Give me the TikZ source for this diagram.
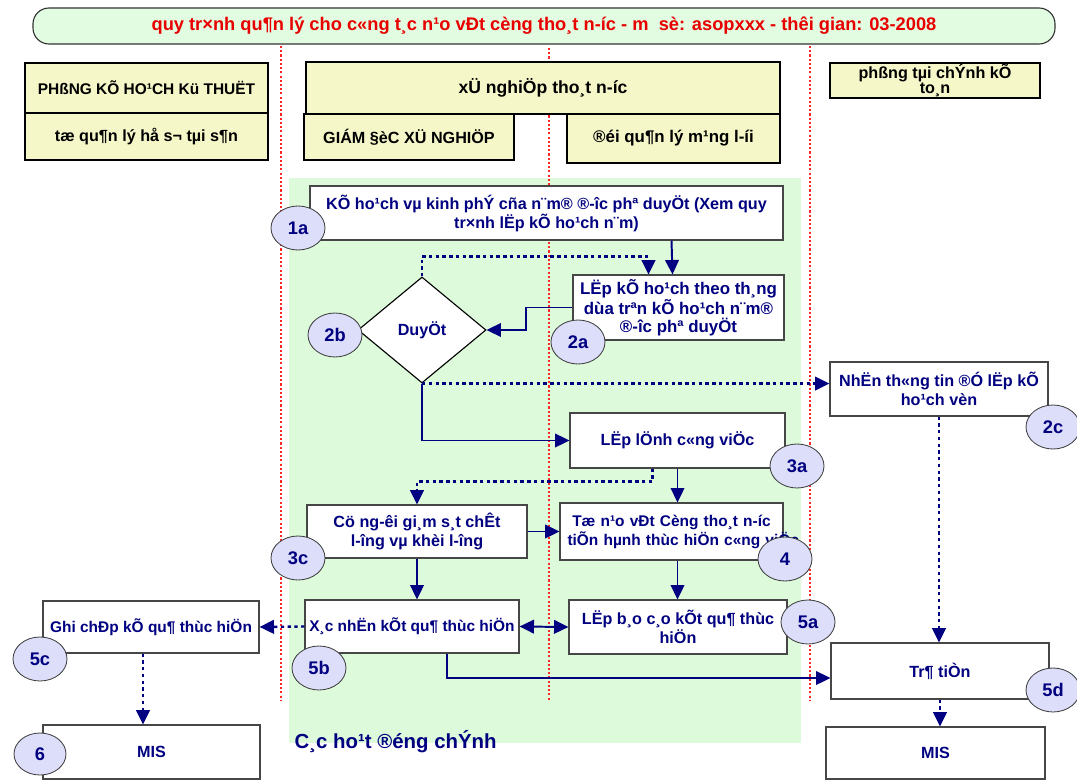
\documentclass[tikz,border=0pt]{standalone}
\usepackage{fontspec}
\setmainfont{Liberation Sans}
\usepackage{tikz}
\usetikzlibrary{positioning,shapes.geometric,arrows.meta,calc}
\definecolor{navy}{RGB}{0,0,128}
\definecolor{greenbg}{RGB}{221,251,218}
\definecolor{titlebg}{RGB}{226,252,226}
\definecolor{headyel}{RGB}{245,247,200}
\definecolor{numfill}{RGB}{221,222,250}
\definecolor{boxgray}{RGB}{70,70,70}
\definecolor{titlered}{RGB}{232,0,0}
\begin{document}
\begin{tikzpicture}[
		x=0.25mm, y=-0.25mm
		,every node/.append style={font=\bfseries\fontsize{11.5}{13.5}\selectfont, align=center, inner sep=1pt}
		,head/.style={draw=black, line width=1.2pt, fill=headyel, text=black}
		,task/.style={draw=boxgray, line width=0.8pt, fill=white, text=navy}
		,small/.style={font=\bfseries\fontsize{11}{13.5}\selectfont}
		,num/.style={ellipse, draw=black!75, line width=0.6pt, fill=numfill, text=navy, minimum width=13.5mm, minimum height=11mm, font=\bfseries\fontsize{13}{15}\selectfont}
		,lane/.style={red!85, line width=0.8pt, dash pattern=on 1.5pt off 1.5pt}
		,flow/.style={navy, line width=1.4pt, -{Triangle[length=3.6mm, width=3.4mm]}}
		,dflow/.style={flow, line width=1.7pt, dash pattern=on 2.4pt off 2.4pt}
	]
	\useasboundingbox (0,0) rectangle (1077,781);
	\fill[greenbg] (289,178) rectangle (801,743);
	\draw[lane] (281,46) -- (281,700);
	\draw[lane] (549,48) -- (549,700);
	\draw[lane] (810,46) -- (810,700);

	\node [draw=black!80, line width=0.8pt, fill=titlebg, rounded corners=4mm, minimum width=255.5mm, minimum height=9mm, text=titlered, font=\bfseries\fontsize{13}{14}\selectfont] (title) at (544,26) {quy tr×nh qu¶n lý cho c«ng t¸c n¹o vÐt cèng tho¸t n-íc - m\ \ sè: asopxxx - thêi gian: 03-2008};

	\node [head, minimum width=60.75mm, minimum height=12.5mm, font=\bfseries\fontsize{11}{13}\selectfont] (kt) at (146.5,88) {PHßNG KÕ HO¹CH Kü THUËT};
	\node [head, minimum width=60.75mm, minimum height=11.75mm] (hs) at (146.5,136.5) {tæ qu¶n lý hå s¬ tµi s¶n};
	\node [head, minimum width=118.5mm, minimum height=13mm, font=\bfseries\fontsize{12.5}{14}\selectfont] (xn) at (543,88) {xÜ nghiÖp tho¸t n-íc};
	\node [head, minimum width=52.5mm, minimum height=11.5mm] (gd) at (409,137) {GIÁM §èC XÜ NGHIÖP};
	\node [head, minimum width=53.25mm, minimum height=12.25mm, font=\bfseries\fontsize{12}{14}\selectfont] (dq) at (673.5,138.5) {®éi qu¶n lý m¹ng l-íi};
	\node [head, minimum width=52.5mm, minimum height=8.75mm, font=\bfseries\fontsize{11.5}{10.5}\selectfont] (tc) at (935,80.5) {phßng tµi chÝnh kÕ\\to¸n};

	\node [task, minimum width=118.25mm, minimum height=13.5mm] (a1) at (546.5,213) {KÕ ho¹ch vµ kinh phÝ cña n¨m® ®-îc phª duyÖt (Xem quy\\tr×nh lËp kÕ ho¹ch n¨m)};
	\node [task, minimum width=52.75mm, minimum height=16.25mm, font=\bfseries\fontsize{12}{12.5}\selectfont] (a2) at (678.5,307.5) {LËp kÕ ho¹ch theo th¸ng\\dùa trªn kÕ ho¹ch n¨m®\\®-îc phª duyÖt};
	\node [task, diamond, aspect=1.2, draw=black, minimum width=32mm, minimum height=26.5mm] (dia) at (422,330) {DuyÖt};
	\node [task, minimum width=54.5mm, minimum height=13.5mm] (c2) at (939,389) {NhËn th«ng tin ®Ó lËp kÕ\\ho¹ch vèn};
	\node [task, minimum width=53.75mm, minimum height=13.75mm] (a3) at (677.5,440.5) {LËp lÖnh c«ng viÖc};
	\node [task, minimum width=55mm, minimum height=13.25mm] (c3) at (417,531.5) {Cö ng-êi gi¸m s¸t chÊt\\l-îng vµ khèi l-îng};
	\node [task, small, minimum width=55.75mm, minimum height=14.25mm, text width=53mm] (b4) at (671.5,531.5) {Tæ n¹o vÐt Cèng tho¸t n-íc\\\makebox[52mm][l]{tiÕn hµnh thùc hiÖn c«ng viÖc}};
	\node [task, minimum width=54.5mm, minimum height=13.5mm] (a5) at (678,627) {LËp b¸o c¸o kÕt qu¶ thùc\\hiÖn};
	\node [task, small, minimum width=53.5mm, minimum height=13.25mm] (b5) at (412,626.5) {X¸c nhËn kÕt qu¶ thùc hiÖn};
	\node [task, small, minimum width=54mm, minimum height=13mm] (c5) at (151,627) {Ghi chÐp kÕ qu¶ thùc hiÖn};
	\node [task, minimum width=54.5mm, minimum height=14mm] (d5) at (940,671) {Tr¶ tiÒn};
	\node [task, minimum width=54.25mm, minimum height=13.5mm] (m6) at (151.5,752) {MIS};
	\node [task, minimum width=54.75mm, minimum height=13mm] (m7) at (935.5,753) {MIS};

	\node [anchor=west, text=navy, font=\bfseries\fontsize{14.5}{16}\selectfont] (main) at (293,742) {C¸c ho¹t ®éng chÝnh};

	\draw[flow] ($(a1.south)+(125,0)$) -- ($(a2.north)+(-6,0)$);
	\draw[dflow] (dia.north) -- ++(0,-20) -| ($(a2.north)+(-30,0)$);
	\draw[flow] (a2.west) -- ++(-46,0) |- (dia.east);
	\draw[dflow] (dia.south) -- (dia.south -| c2.west);
	\draw[flow] (dia.south) |- (a3.west);
	\draw[flow] (a3.south) -- (a3.south |- b4.north);
	\draw[dflow] ($(a3.south)+(-25,0)$) -- ++(0,13) -| (c3.north);
	\draw[flow] (c3.east) -- (b4.west);
	\draw[flow] (c3.south) -- (c3.south |- b5.north);
	\draw[flow] (a3.south |- b4.south) -- (a3.south |- a5.north);
	\draw[flow, {Triangle[length=3.6mm, width=3.4mm]}-{Triangle[length=3.6mm, width=3.4mm]}] (b5.east) -- (a5.west);
	\draw[flow] ($(b5.south)+(35,0)$) |- ($(d5.west)+(0,7)$);
	\draw[dflow] (b5.west) -- (c5.east);
	\draw[dflow] ($(c5.south)+(-8,0)$) -- ($(c5.south |- m6.north)+(-8,0)$);
	\draw[dflow] (c2.south) -- (c2.south |- d5.north);
	\draw[dflow] (d5.south) -- (d5.south |- m7.north);

	\node [num] (n1a) at (298,228) {1a};
	\node [num] (n2b) at (335,335) {2b};
	\node [num] (n2a) at (578,342) {2a};
	\node [num] (n2c) at (1053,427) {2c};
	\node [num] (n3a) at (797,466) {3a};
	\node [num] (n3c) at (298,558) {3c};
	\node [num] (n4) at (785,559) {4};
	\node [num] (n5a) at (808,622) {5a};
	\node [num] (n5b) at (319,668) {5b};
	\node [num] (n5c) at (40,659) {5c};
	\node [num] (n5d) at (1053,690) {5d};
	\node [num, minimum width=13mm, minimum height=10.5mm] (n6) at (40,754) {6};
\end{tikzpicture}
\end{document}
